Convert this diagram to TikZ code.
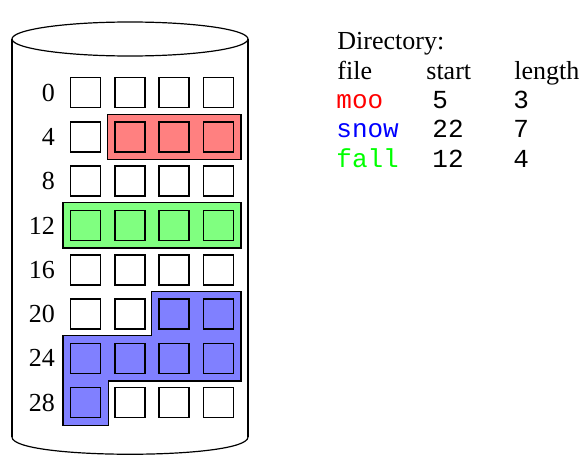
\documentclass[tikz,border=0pt]{standalone}
\usepackage{fontspec}
\setmainfont{Liberation Serif}
\setmonofont{Liberation Mono}
\usetikzlibrary{positioning, backgrounds}
\definecolor{mooRed}{RGB}{255,0,0}
\definecolor{snowBlue}{RGB}{0,0,255}
\definecolor{fallGreen}{RGB}{0,255,0}
\definecolor{mooFill}{RGB}{255,128,128}
\definecolor{snowFill}{RGB}{128,128,255}
\definecolor{fallFill}{RGB}{128,255,128}

\begin{document}
\begin{tikzpicture}[x=0.5pt, y=-0.5pt, line join=miter,
                    font=\fontsize{13pt}{15pt}\selectfont]
  \tikzstyle{block}=[draw=black, line width=0.8pt, minimum size=15pt, inner sep=0pt]
  \tikzstyle{rowlabel}=[inner sep=0pt]
  \tikzstyle{extent}=[draw=black, line width=0.6pt]
  \tikzstyle{disk}=[draw=black, line width=0.6pt]
  \tikzstyle{dirtext}=[anchor=base west, inner sep=0pt]
  \tikzstyle{dirmono}=[dirtext, font=\fontsize{13pt}{15pt}\selectfont\ttfamily]
  \def\pad{3.4pt}

  \useasboundingbox (0,0) rectangle (580,455);

  \draw[disk] (130,39) ellipse [x radius=118, y radius=17];
  \draw[disk] (12,39) -- (12,437);
  \draw[disk] (248,39) -- (248,437);
  \draw[disk] (12,437) .. controls (12,460) and (248,460) .. (248,437);

  \foreach \row in {0,...,7} {
    \foreach \col in {0,...,3} {
      \pgfmathtruncatemacro{\blk}{4*\row+\col}
      \node[block] (b\blk) at (85.5+44.3*\col, 92.5+44.3*\row) {};
    }
    \pgfmathtruncatemacro{\first}{4*\row}
    \node[rowlabel, left=7.25pt of b\first] (r\row) {\first};
  }

  \begin{scope}[on background layer]
    \filldraw[extent, fill=mooFill]
      ([xshift=-\pad, yshift=\pad]b5.north west) rectangle ([xshift=\pad, yshift=-\pad]b7.south east);
    \filldraw[extent, fill=fallFill]
      ([xshift=-\pad, yshift=\pad]b12.north west) rectangle ([xshift=\pad, yshift=-\pad]b15.south east);
    \filldraw[extent, fill=snowFill]
      ([xshift=-\pad, yshift=\pad]b22.north west)
      -- ([xshift=\pad, yshift=\pad]b23.north east)
      -- ([xshift=\pad, yshift=-\pad]b27.south east)
      -- ([xshift=\pad, yshift=-\pad]b24.south east)
      -- ([xshift=\pad, yshift=-\pad]b28.south east)
      -- ([xshift=-\pad, yshift=-\pad]b28.south west)
      -- ([xshift=-\pad, yshift=\pad]b24.north west)
      -- ([xshift=-\pad, yshift=\pad]b26.north west)
      -- cycle;
  \end{scope}

  \node[dirtext] (dirtitle) at (337,49) {Directory:};
  \node[dirtext] (hfile)    at (337,79) {file};
  \node[dirtext] (hstart)   at (426,79) {start};
  \node[dirtext] (hlength)  at (514,79) {length};
  \foreach \fname/\fclr/\fstart/\flen [count=\k] in
      {moo/mooRed/5/3, snow/snowBlue/22/7, fall/fallGreen/12/4} {
    \node[dirmono, text=\fclr] (f\k) at (336,79+29.4*\k) {\fname};
    \node[dirmono]             (s\k) at (432,79+29.4*\k) {\fstart};
    \node[dirmono]             (l\k) at (513,79+29.4*\k) {\flen};
  }
\end{tikzpicture}
\end{document}
